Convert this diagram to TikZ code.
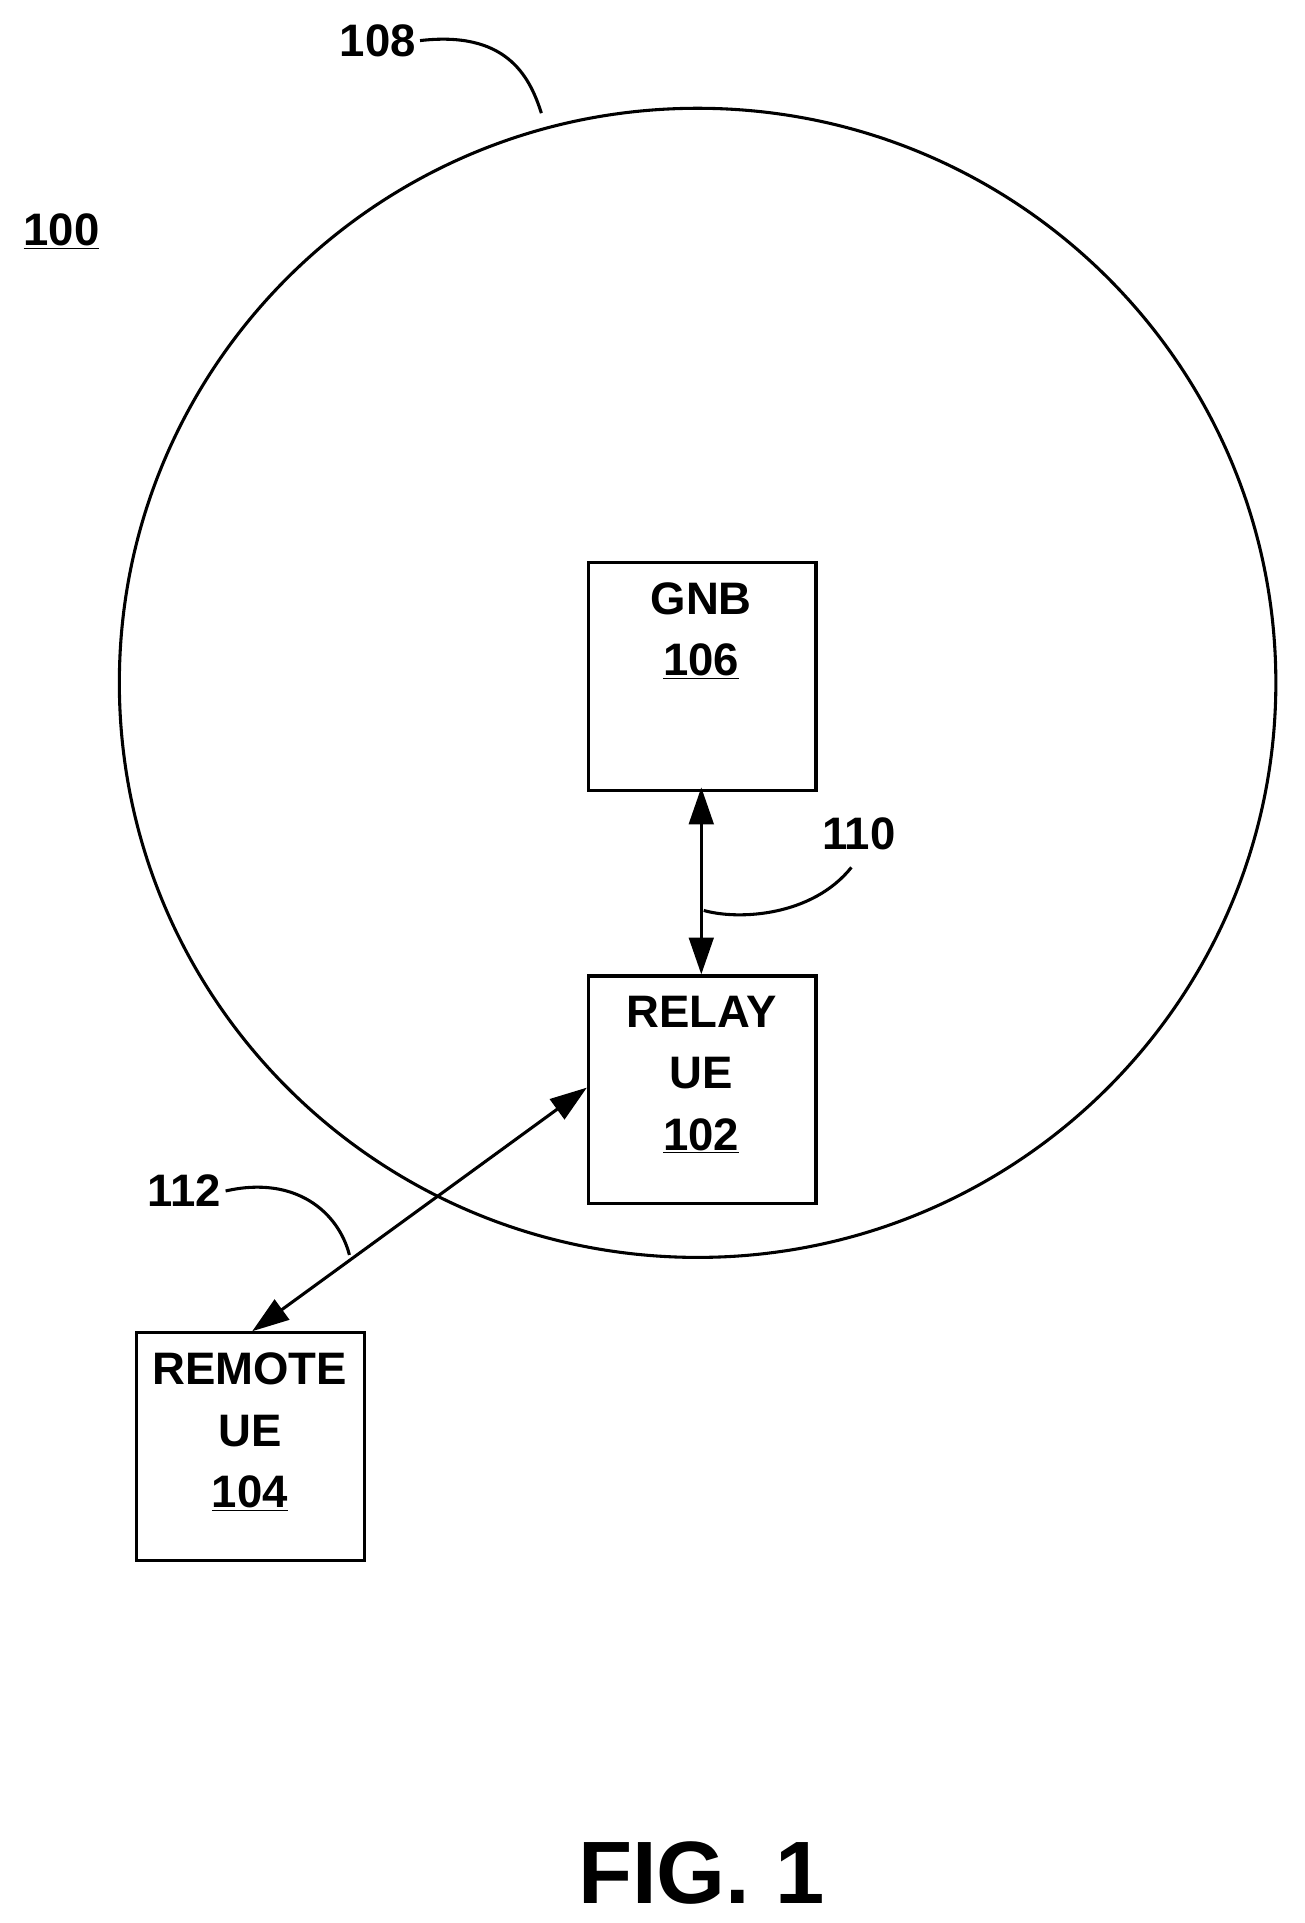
\documentclass[tikz,border=0pt]{standalone}
\usepackage{fontspec}
\setmainfont{Liberation Sans}
\usetikzlibrary{arrows.meta}
\begin{document}
\begin{tikzpicture}[x=1pt,y=-1pt,
  box/.style={draw,line width=2.5pt,minimum width=185pt,minimum height=185pt,anchor=north west,inner sep=0pt},
  txt/.style={font=\fontsize{37}{50}\selectfont\bfseries,align=center},
  lead/.style={line width=2.5pt},
  arr/.style={line width=2.5pt,{Triangle[length=30pt,width=20pt]}-{Triangle[length=30pt,width=20pt]}}]
\useasboundingbox (0,0) rectangle (1060,1563);
\draw[line width=2.5pt] (567,555) ellipse [x radius=470, y radius=467];
\node[box] (gnb) at (477,456) {};
\node[box] (relay) at (477,792) {};
\node[box] (remote) at (110,1082) {};
\node[txt,anchor=north] (gt) at (570,470) {GNB\\\underline{106}};
\node[txt,anchor=north] (rt) at (570,806) {RELAY\\UE\\\underline{102}};
\node[txt,anchor=north] (mt) at (203,1096) {REMOTE\\UE\\\underline{104}};
\coordinate (g1) at (570,640);
\coordinate (r1) at (570,792);
\draw[arr] (g1) -- (r1);
\coordinate (m1) at (205,1082);
\coordinate (r2) at (477,884);
\draw[arr] (m1) -- (r2);
\node[txt] (l108) at (307,33) {108};
\node[txt] (l100) at (50,188) {\underline{100}};
\node[txt] (l110) at (698,678) {110};
\node[txt] (l112) at (150,968) {112};
\node[font=\fontsize{72}{80}\selectfont\bfseries] (fig) at (570,1522) {FIG. 1};
\coordinate (c108) at (440,92);
\coordinate (c110) at (572,740);
\coordinate (c112) at (284,1020);
\draw[lead] (l108.east) .. controls (410,25) and (430,60) .. (c108);
\draw[lead] (692,705) .. controls (660,745) and (600,748) .. (c110);
\draw[lead] (l112.east) .. controls (240,955) and (275,985) .. (c112);
\end{tikzpicture}
\end{document}
